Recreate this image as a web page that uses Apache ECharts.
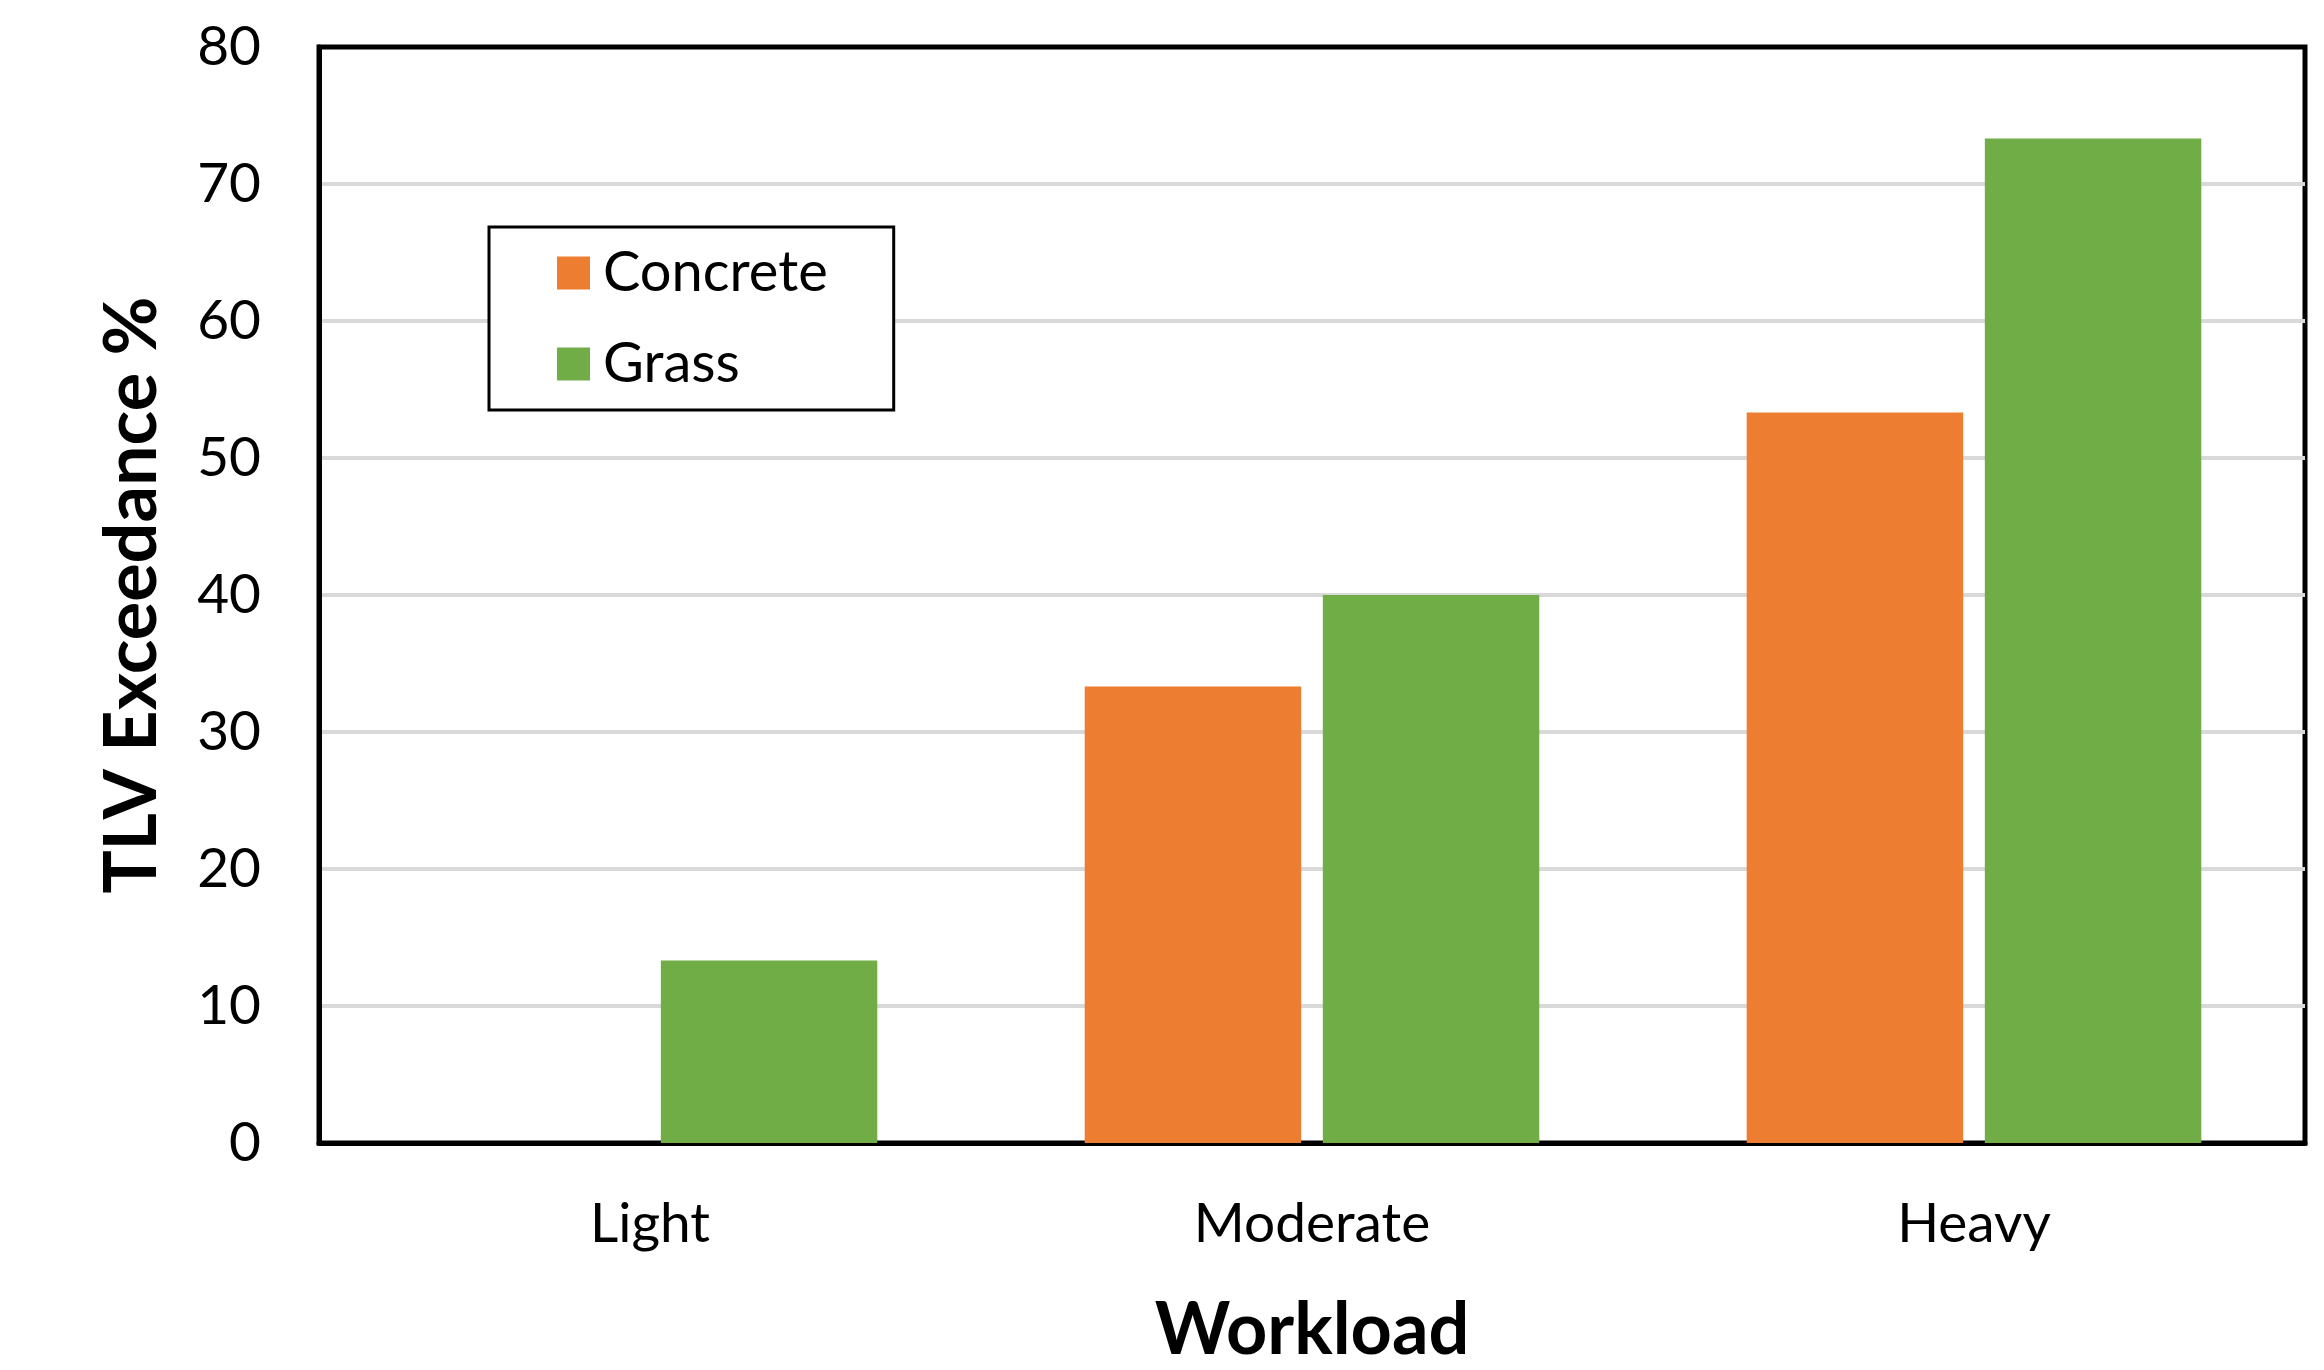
<!DOCTYPE html>
<html>
<head>
<meta charset="utf-8">
<script src="https://cdn.jsdelivr.net/npm/echarts@6/dist/echarts.min.js"></script>
<style>
  html, body { margin: 0; padding: 0; background: #fff; }
  #chart { width: 2324px; height: 1370px; }
</style>
</head>
<body>
<div id="chart"></div>
<script>
// Workload categories and TLV exceedance (%) per surface
const workloads = ['Light', 'Moderate', 'Heavy'];
const concrete = [0, 33.33, 53.33];
const grass = [13.33, 40, 73.33];
const yTicks = { min: 0, max: 80, interval: 10 };

const FONT = 'Lato';

const chart = echarts.init(document.getElementById('chart'));
chart.setOption({
  backgroundColor: '#ffffff',
  animation: false,
  textStyle: { fontFamily: FONT, color: '#000' },
  grid: {
    left: 319, right: 19, top: 47, bottom: 227,
    outerBoundsMode: 'none',
    show: true, borderColor: '#000', borderWidth: 5
  },
  legend: {
    orient: 'vertical',
    left: 489, top: 227,
    padding: [18, 66, 18, 68],
    itemWidth: 33, itemHeight: 33, itemGap: 35,
    borderColor: '#000', borderWidth: 3,
    backgroundColor: '#fff',
    icon: 'rect',
    textStyle: { fontFamily: FONT, fontSize: 56, color: '#000', padding: [0, 0, 0, 8] },
    data: ['Concrete', 'Grass']
  },
  xAxis: {
    type: 'category',
    data: workloads,
    axisLine: { lineStyle: { color: '#000', width: 5 } },
    axisTick: { show: false },
    axisLabel: { fontFamily: FONT, fontSize: 55, color: '#000', margin: 54 },
    name: 'Workload',
    nameLocation: 'middle',
    nameGap: 152,
    nameTextStyle: { fontFamily: FONT, fontSize: 72, fontWeight: 'bold', color: '#000' }
  },
  yAxis: {
    type: 'value',
    min: yTicks.min, max: yTicks.max, interval: yTicks.interval,
    axisLine: { show: true, lineStyle: { color: '#000', width: 5 } },
    axisTick: { show: false },
    splitLine: {
      showMinLine: false, showMaxLine: false,
      lineStyle: { color: '#d9d9d9', width: 4 }
    },
    axisLabel: { fontFamily: FONT, fontSize: 55, color: '#000', margin: 58 },
    name: 'TLV Exceedance %',
    nameLocation: 'middle',
    nameGap: 150,
    nameTextStyle: { fontFamily: FONT, fontSize: 72, fontWeight: 'bold', color: '#000' }
  },
  series: [
    {
      name: 'Concrete', type: 'bar', data: concrete,
      barWidth: '32.7%', barGap: '10%',
      itemStyle: { color: '#ED7D31' }
    },
    {
      name: 'Grass', type: 'bar', data: grass,
      barWidth: '32.7%', barGap: '10%',
      itemStyle: { color: '#70AD47' }
    }
  ]
});
</script>
</body>
</html>
